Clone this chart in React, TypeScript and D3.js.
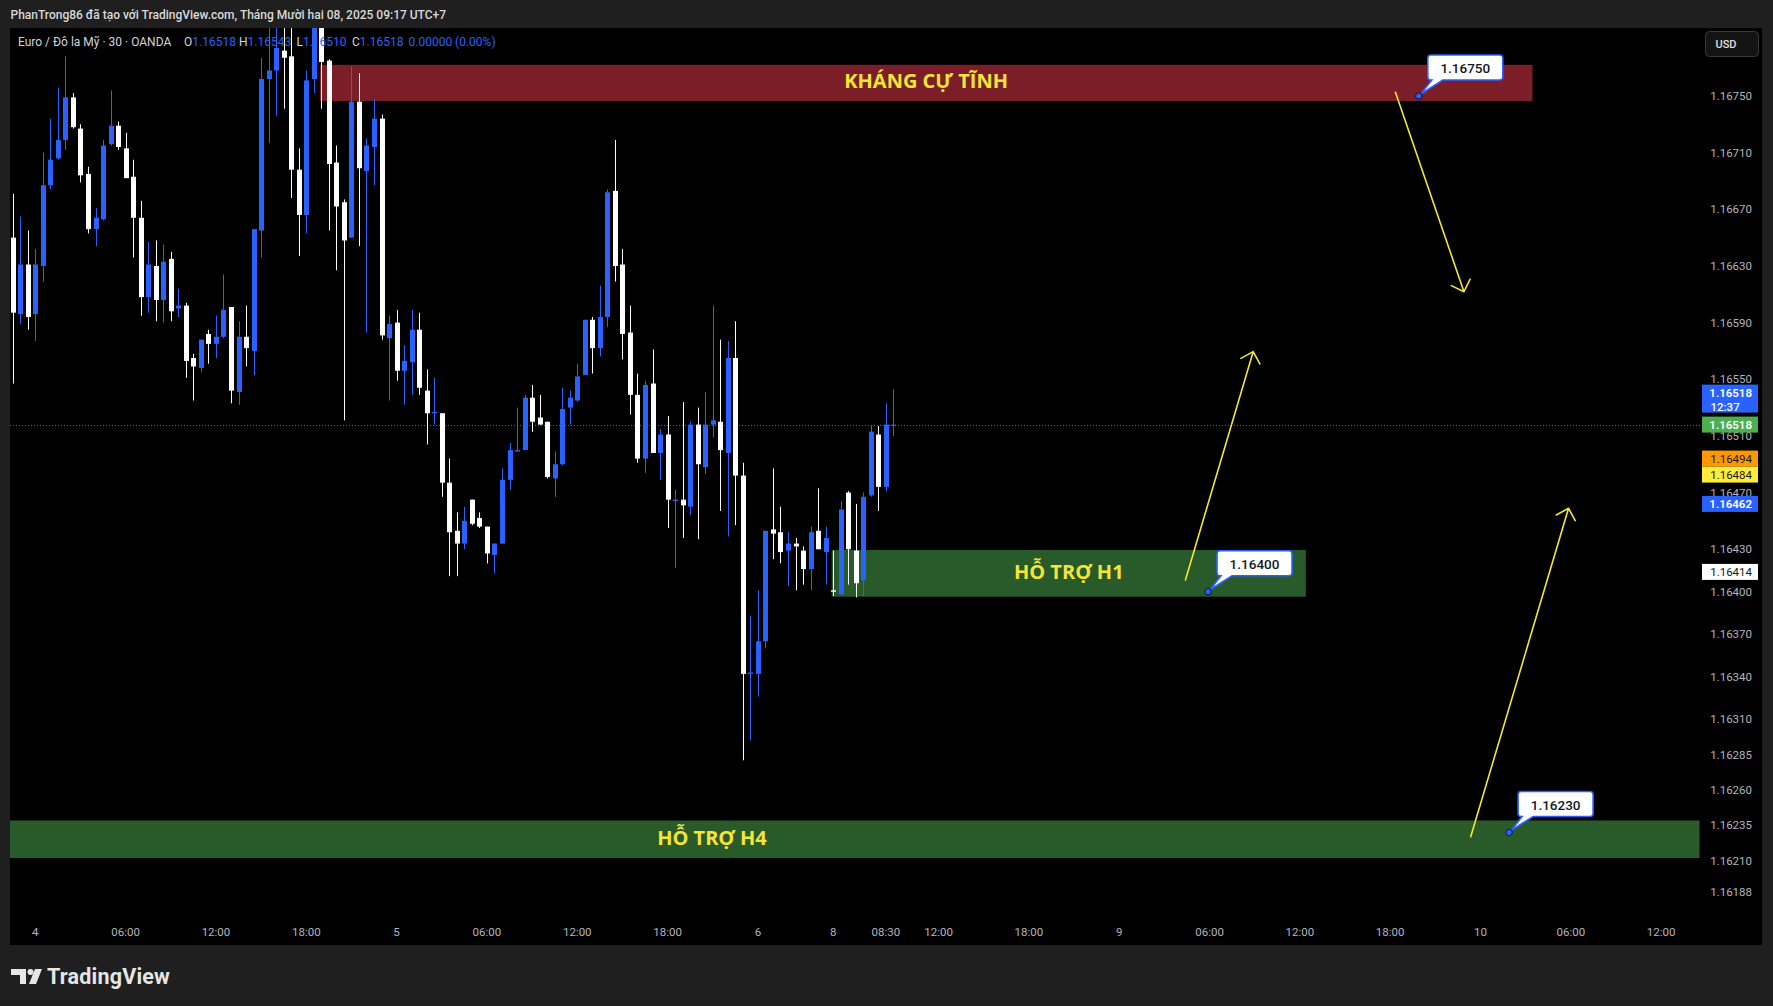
import React, { useEffect, useRef } from 'react';
import * as d3 from 'd3';

// EUR/USD 30 min, OANDA. Bar index 0 = Dec 4 00:00 (UTC+7), first drawn bar is index -3.
const firstBarIndex = -3;

const opens = [
  1.16650, 1.16596, 1.16631, 1.16596, 1.16630, 1.16687, 1.16706, 1.16719, 1.16749, 1.16727,
  1.16695, 1.16656, 1.16663, 1.16716, 1.16729, 1.16713, 1.16693, 1.16664, 1.16608, 1.16630,
  1.16606, 1.16635, 1.16600, 1.16602, 1.16565, 1.16558, 1.16582, 1.16575, 1.16580, 1.16601,
  1.16541, 1.16580, 1.16570, 1.16655, 1.16762, 1.16768, 1.16782, 1.16778, 1.16698, 1.16666,
  1.16762, 1.16800, 1.16775, 1.16703, 1.16675, 1.16650, 1.16746, 1.16697, 1.16714, 1.16734,
  1.16579, 1.16590, 1.16556, 1.16562, 1.16585, 1.16542, 1.16526, 1.16526, 1.16477, 1.16443,
  1.16434, 1.16465, 1.16452, 1.16446, 1.16426, 1.16434, 1.16479, 1.16499, 1.16500, 1.16537,
  1.16523, 1.16520, 1.16480, 1.16490, 1.16530, 1.16535, 1.16553, 1.16592, 1.16572, 1.16594,
  1.16683, 1.16631, 1.16583, 1.16539, 1.16494, 1.16547, 1.16498, 1.16511, 1.16464, 1.16465,
  1.16460, 1.16518, 1.16488, 1.16518, 1.16520, 1.16498, 1.16565, 1.16482, 1.16342, 1.16342,
  1.16365, 1.16444, 1.16442, 1.16429, 1.16434, 1.16429, 1.16416, 1.16443, 1.16428, 1.16401,
  1.16398, 1.16470, 1.16429, 1.16408, 1.16468, 1.16511, 1.16474, 1.16518,
];
const highs = [
  1.16681, 1.16665, 1.16655, 1.16642, 1.16710, 1.16734, 1.16756, 1.16778, 1.16752, 1.16730,
  1.16700, 1.16671, 1.16719, 1.16754, 1.16732, 1.16724, 1.16705, 1.16676, 1.16647, 1.16648,
  1.16645, 1.16640, 1.16614, 1.16604, 1.16568, 1.16578, 1.16585, 1.16595, 1.16624, 1.16601,
  1.16591, 1.16602, 1.16656, 1.16777, 1.16798, 1.16805, 1.16800, 1.16800, 1.16713, 1.16768,
  1.16810, 1.16805, 1.16776, 1.16715, 1.16677, 1.16771, 1.16766, 1.16720, 1.16748, 1.16737,
  1.16595, 1.16599, 1.16574, 1.16599, 1.16597, 1.16557, 1.16551, 1.16526, 1.16494, 1.16456,
  1.16460, 1.16465, 1.16456, 1.16446, 1.16434, 1.16487, 1.16505, 1.16530, 1.16539, 1.16546,
  1.16539, 1.16520, 1.16499, 1.16544, 1.16542, 1.16561, 1.16592, 1.16594, 1.16616, 1.16684,
  1.16719, 1.16642, 1.16602, 1.16554, 1.16549, 1.16571, 1.16515, 1.16524, 1.16472, 1.16534,
  1.16520, 1.16530, 1.16541, 1.16602, 1.16578, 1.16577, 1.16591, 1.16491, 1.16383, 1.16401,
  1.16443, 1.16487, 1.16460, 1.16442, 1.16438, 1.16432, 1.16446, 1.16473, 1.16446, 1.16429,
  1.16464, 1.16471, 1.16462, 1.16470, 1.16517, 1.16517, 1.16533, 1.16543,
];
const lows = [
  1.16547, 1.16589, 1.16585, 1.16577, 1.16619, 1.16684, 1.16705, 1.16712, 1.16727, 1.16689,
  1.16653, 1.16644, 1.16662, 1.16715, 1.16712, 1.16692, 1.16636, 1.16595, 1.16597, 1.16591,
  1.16590, 1.16591, 1.16594, 1.16551, 1.16535, 1.16555, 1.16561, 1.16565, 1.16579, 1.16533,
  1.16532, 1.16559, 1.16553, 1.16636, 1.16717, 1.16736, 1.16741, 1.16678, 1.16637, 1.16653,
  1.16752, 1.16741, 1.16655, 1.16627, 1.16521, 1.16650, 1.16644, 1.16583, 1.16687, 1.16578,
  1.16535, 1.16549, 1.16532, 1.16539, 1.16539, 1.16504, 1.16518, 1.16467, 1.16411, 1.16411,
  1.16430, 1.16447, 1.16445, 1.16420, 1.16413, 1.16434, 1.16472, 1.16499, 1.16500, 1.16513,
  1.16518, 1.16480, 1.16467, 1.16489, 1.16518, 1.16534, 1.16553, 1.16554, 1.16566, 1.16587,
  1.16619, 1.16564, 1.16525, 1.16491, 1.16484, 1.16498, 1.16479, 1.16445, 1.16417, 1.16438,
  1.16454, 1.16437, 1.16483, 1.16509, 1.16457, 1.16439, 1.16447, 1.16281, 1.16295, 1.16326,
  1.16360, 1.16423, 1.16420, 1.16404, 1.16401, 1.16405, 1.16401, 1.16430, 1.16405, 1.16397,
  1.16398, 1.16405, 1.16396, 1.16397, 1.16467, 1.16457, 1.16471, 1.16510,
];
const closes = [
  1.16597, 1.16631, 1.16594, 1.16631, 1.16687, 1.16705, 1.16719, 1.16749, 1.16728, 1.16694,
  1.16656, 1.16664, 1.16715, 1.16729, 1.16714, 1.16692, 1.16664, 1.16608, 1.16631, 1.16606,
  1.16633, 1.16598, 1.16602, 1.16563, 1.16559, 1.16578, 1.16575, 1.16580, 1.16599, 1.16542,
  1.16580, 1.16572, 1.16656, 1.16762, 1.16768, 1.16784, 1.16777, 1.16698, 1.16666, 1.16761,
  1.16800, 1.16774, 1.16702, 1.16672, 1.16648, 1.16746, 1.16699, 1.16715, 1.16734, 1.16581,
  1.16589, 1.16556, 1.16563, 1.16585, 1.16544, 1.16526, 1.16527, 1.16477, 1.16442, 1.16434,
  1.16450, 1.16448, 1.16446, 1.16427, 1.16434, 1.16479, 1.16500, 1.16500, 1.16537, 1.16520,
  1.16518, 1.16481, 1.16490, 1.16529, 1.16537, 1.16552, 1.16592, 1.16572, 1.16594, 1.16682,
  1.16630, 1.16582, 1.16539, 1.16494, 1.16546, 1.16498, 1.16511, 1.16465, 1.16465, 1.16461,
  1.16518, 1.16490, 1.16518, 1.16521, 1.16500, 1.16565, 1.16482, 1.16342, 1.16343, 1.16365,
  1.16443, 1.16441, 1.16428, 1.16434, 1.16432, 1.16416, 1.16442, 1.16430, 1.16438, 1.16400,
  1.16458, 1.16430, 1.16406, 1.16467, 1.16513, 1.16474, 1.16518, 1.16518,
];

// time axis (bar index -> label)
const timeTickIndex = [0, 12, 24, 36, 48, 60, 72, 84, 96, 106, 113, 120, 132, 144, 156, 168, 180, 192, 204, 216];
const timeTickLabels = ['4', '06:00', '12:00', '18:00', '5', '06:00', '12:00', '18:00', '6', '8', '08:30', '12:00', '18:00', '9', '06:00', '12:00', '18:00', '10', '06:00', '12:00'];

// price axis
const priceTicks = [1.16750, 1.16710, 1.16670, 1.16630, 1.16590, 1.16550, 1.16510, 1.16470, 1.16430, 1.16400,
  1.16370, 1.16340, 1.16310, 1.16285, 1.16260, 1.16235, 1.16210, 1.16188];
const lastPrice = 1.16518;
const countdown = '12:37';
const tagValues = [1.16494, 1.16484, 1.16462, 1.16414];

// drawn zones
const zoneNames = ['KHÁNG CỰ TĨNH', 'HỖ TRỢ H1', 'HỖ TRỢ H4'];
const zoneFrom = [37.8, 105.8, -41.3];
const zoneTo = [198.9, 168.8, 221.1];
const zoneLow = [1.167465, 1.163965, 1.16212];
const zoneHigh = [1.16772, 1.164295, 1.162385];

// price callouts
const calloutValues = [1.16750, 1.16400, 1.16230];
const calloutIndex = [183.8, 155.8, 195.8];

// arrows (bar index, price)
const arrowFromIndex = [180.7, 152.8, 190.7];
const arrowFromPrice = [1.167526, 1.164083, 1.16227];
const arrowToIndex = [189.8, 161.8, 203.7];
const arrowToPrice = [1.166118, 1.165695, 1.164589];

const W = 1773;
const H = 1006;
const FONT = 'Roboto, "Noto Sans", sans-serif';

const App: React.FC = () => {
  const svgRef = useRef<SVGSVGElement>(null);

  useEffect(() => {
    if (!svgRef.current) return;
    document.body.style.margin = '0';

    const svg = d3.select(svgRef.current);
    svg.selectAll('*').remove();

    const plot = { left: 10, right: 1700, top: 28, bottom: 945, edge: 1762 };
    const blue = '#2962ff';
    const yellow = '#f5e634';

    const x = d3.scaleLinear().domain([0, 192]).range([35.3, 1480.5]);
    const y = d3.scaleLinear().domain([1.16188, 1.16750]).range([892, 96]);

    // page frame
    svg.append('rect').attr('width', W).attr('height', H).attr('fill', '#1f1f1f');
    svg.append('rect')
      .attr('x', plot.left).attr('y', plot.top)
      .attr('width', plot.edge - plot.left).attr('height', plot.bottom - plot.top)
      .attr('fill', '#000');

    svg.append('defs').append('clipPath').attr('id', 'plot-clip')
      .append('rect')
      .attr('x', plot.left).attr('y', plot.top)
      .attr('width', plot.right - plot.left).attr('height', plot.bottom - plot.top);

    const g = svg.append('g').attr('clip-path', 'url(#plot-clip)');

    // zones
    zoneNames.forEach((name, i) => {
      const x0 = x(zoneFrom[i]);
      const x1 = x(zoneTo[i]);
      const yTop = y(zoneHigh[i]);
      const yBot = y(zoneLow[i]);
      g.append('rect')
        .attr('x', x0).attr('y', yTop)
        .attr('width', x1 - x0).attr('height', yBot - yTop)
        .attr('fill', i === 0 ? '#7b1e27' : '#295a2a');
    });

    // last price dotted line
    g.append('line')
      .attr('x1', plot.left).attr('x2', plot.right)
      .attr('y1', Math.round(y(lastPrice)) + 0.5).attr('y2', Math.round(y(lastPrice)) + 0.5)
      .attr('stroke', blue).attr('stroke-width', 1).attr('stroke-dasharray', '1,2');

    // candles
    const candles = opens.map((o, i) => ({
      idx: firstBarIndex + i, o, h: highs[i], l: lows[i], c: closes[i],
    }));
    const cg = g.selectAll('.candle').data(candles).enter().append('g').attr('class', 'candle');
    const cx = (d: any) => Math.round(x(d.idx)) + 0.5;
    const col = (d: any) => (d.c >= d.o ? blue : '#ffffff');
    cg.append('line')
      .attr('x1', cx).attr('x2', cx)
      .attr('y1', d => y(d.h)).attr('y2', d => y(d.l))
      .attr('stroke', col).attr('stroke-width', 1);
    cg.append('rect')
      .attr('x', d => cx(d) - 2.5)
      .attr('width', 5)
      .attr('y', d => y(Math.max(d.o, d.c)))
      .attr('height', d => Math.max(1, Math.abs(y(d.o) - y(d.c))))
      .attr('fill', col);

    // zone labels
    zoneNames.forEach((name, i) => {
      g.append('text')
        .attr('x', (x(zoneFrom[i]) + x(zoneTo[i])) / 2)
        .attr('y', (y(zoneHigh[i]) + y(zoneLow[i])) / 2 - 2)
        .attr('text-anchor', 'middle').attr('dominant-baseline', 'central')
        .attr('font-family', '"Open Sans", Roboto, sans-serif')
        .attr('font-weight', 700).attr('font-size', 20)
        .attr('fill', yellow)
        .text(name);
    });

    // arrows
    arrowFromIndex.forEach((_, i) => {
      const x0 = x(arrowFromIndex[i]);
      const y0 = y(arrowFromPrice[i]);
      const x1 = x(arrowToIndex[i]);
      const y1 = y(arrowToPrice[i]);
      const ang = Math.atan2(y0 - y1, x0 - x1);
      const len = 14;
      const a1 = ang + Math.PI / 4;
      const a2 = ang - Math.PI / 4;
      const path = d3.path();
      path.moveTo(x0, y0);
      path.lineTo(x1, y1);
      path.moveTo(x1 + len * Math.cos(a1), y1 + len * Math.sin(a1));
      path.lineTo(x1, y1);
      path.lineTo(x1 + len * Math.cos(a2), y1 + len * Math.sin(a2));
      g.append('path')
        .attr('d', path.toString())
        .attr('fill', 'none')
        .attr('stroke', yellow).attr('stroke-width', 1.6)
        .attr('stroke-linecap', 'round').attr('stroke-linejoin', 'round');
    });

    // price callouts
    calloutValues.forEach((v, i) => {
      const ax = x(calloutIndex[i]);
      const ay = y(v);
      const bx = ax + 9;
      const by = ay - 41;
      const bw = 75;
      const bh = 25;
      const r = 3;
      const p = d3.path();
      p.moveTo(bx + r, by);
      p.lineTo(bx + bw - r, by);
      p.quadraticCurveTo(bx + bw, by, bx + bw, by + r);
      p.lineTo(bx + bw, by + bh - r);
      p.quadraticCurveTo(bx + bw, by + bh, bx + bw - r, by + bh);
      p.lineTo(ax + 24, by + bh);
      p.lineTo(ax + 2, ay - 2);
      p.lineTo(ax + 13, by + bh);
      p.lineTo(bx + r, by + bh);
      p.quadraticCurveTo(bx, by + bh, bx, by + bh - r);
      p.lineTo(bx, by + r);
      p.quadraticCurveTo(bx, by, bx + r, by);
      p.closePath();
      g.append('path').attr('d', p.toString())
        .attr('fill', '#ffffff').attr('stroke', blue).attr('stroke-width', 1.6);
      g.append('text')
        .attr('x', bx + bw / 2).attr('y', by + bh / 2 + 0.5)
        .attr('text-anchor', 'middle').attr('dominant-baseline', 'central')
        .attr('font-family', FONT).attr('font-size', 13.5).attr('font-weight', 500)
        .attr('fill', '#131722')
        .text(v.toFixed(5));
      g.append('circle')
        .attr('cx', ax).attr('cy', ay).attr('r', 3.2)
        .attr('fill', blue).attr('stroke', '#0a1436').attr('stroke-width', 1);
    });

    // legend on top of the plot
    const legend = svg.append('text')
      .attr('y', 42).attr('dominant-baseline', 'central')
      .attr('font-family', FONT).attr('font-size', 12);
    legend.append('tspan').attr('x', 18).attr('fill', '#d1d4dc').text('Euro / Đô la Mỹ · 30 · OANDA');
    const ohlc = [['O', opens[opens.length - 1]], ['H', highs[highs.length - 1]], ['L', lows[lows.length - 1]], ['C', closes[closes.length - 1]]] as [string, number][];
    const ohlcX = [184, 239, 296.5, 352];
    ohlc.forEach(([k, v], i) => {
      legend.append('tspan').attr('x', ohlcX[i]).attr('fill', '#d1d4dc').text(k);
      legend.append('tspan').attr('fill', blue).text(v.toFixed(5));
    });
    const change = closes[closes.length - 1] - opens[opens.length - 1];
    legend.append('tspan').attr('x', 408.5).attr('fill', blue)
      .text(`${Math.abs(change).toFixed(5)} (${(Math.abs(change) / opens[opens.length - 1] * 100).toFixed(2)}%)`);

    // title bar
    svg.append('text')
      .attr('x', 10.5).attr('y', 15).attr('dominant-baseline', 'central')
      .attr('font-family', FONT).attr('font-size', 12).attr('font-weight', 500)
      .attr('fill', '#d9d9d9')
      .text('PhanTrong86 đã tạo với TradingView.com, Tháng Mười hai 08, 2025 09:17 UTC+7');

    // time axis
    svg.append('g').selectAll('text')
      .data(timeTickIndex).enter().append('text')
      .attr('x', d => x(d)).attr('y', 932)
      .attr('text-anchor', 'middle').attr('dominant-baseline', 'central')
      .attr('font-family', FONT).attr('font-size', 11.5)
      .attr('fill', '#b2b5be')
      .text((_, i) => timeTickLabels[i]);

    // price axis
    const axisX = 1752;
    svg.append('g').selectAll('text')
      .data(priceTicks).enter().append('text')
      .attr('x', axisX).attr('y', d => y(d))
      .attr('text-anchor', 'end').attr('dominant-baseline', 'central')
      .attr('font-family', FONT).attr('font-size', 11.5)
      .attr('fill', '#b2b5be')
      .text(d => d.toFixed(5));

    const tag = (value: number, yc: number, h: number, bg: string, fg: string, bold = false) => {
      svg.append('rect')
        .attr('x', 1702).attr('y', yc - h / 2)
        .attr('width', 56).attr('height', h)
        .attr('fill', bg);
      svg.append('text')
        .attr('x', axisX).attr('y', yc + 0.5)
        .attr('text-anchor', 'end').attr('dominant-baseline', 'central')
        .attr('font-family', FONT).attr('font-size', 11.5)
        .attr('font-weight', bold ? 600 : 400)
        .attr('fill', fg)
        .text(value.toFixed(5));
    };
    const tagColors = ['#ff9800', '#ffeb3b', blue, '#ffffff'];
    const tagText = ['#131722', '#131722', '#ffffff', '#131722'];
    // stack tags so they do not overlap
    let prevBottom = -Infinity;
    tagValues.forEach((v, i) => {
      const yc = Math.max(y(v), prevBottom + 8);
      prevBottom = yc + 8;
      tag(v, yc, 16, tagColors[i], tagText[i], i === 2);
    });

    // last price + countdown
    const yl = y(lastPrice);
    svg.append('rect').attr('x', 1702).attr('y', yl - 40).attr('width', 56).attr('height', 28).attr('fill', blue);
    svg.append('text')
      .attr('x', axisX).attr('y', yl - 32)
      .attr('text-anchor', 'end').attr('dominant-baseline', 'central')
      .attr('font-family', FONT).attr('font-size', 11.5).attr('font-weight', 600)
      .attr('fill', '#ffffff').text(lastPrice.toFixed(5));
    svg.append('text')
      .attr('x', 1710.5).attr('y', yl - 18)
      .attr('dominant-baseline', 'central')
      .attr('font-family', FONT).attr('font-size', 11.5).attr('font-weight', 500)
      .attr('fill', '#ffffff').text(countdown);
    tag(lastPrice, yl, 16, '#4caf50', '#ffffff', true);

    // currency button
    svg.append('rect')
      .attr('x', 1705.5).attr('y', 31.5).attr('width', 53).attr('height', 25).attr('rx', 4)
      .attr('fill', '#141414').attr('stroke', '#3a3a3a');
    svg.append('text')
      .attr('x', 1726).attr('y', 44.5)
      .attr('text-anchor', 'middle').attr('dominant-baseline', 'central')
      .attr('font-family', FONT).attr('font-size', 11).attr('font-weight', 500)
      .attr('fill', '#e0e0e0').text('USD');

    // TradingView logo
    const logo = svg.append('g').attr('fill', '#e6e6e6');
    logo.append('path').attr('d', 'M11 969 H26 V984 H20 V975 H11 Z');
    logo.append('circle').attr('cx', 30.5).attr('cy', 972).attr('r', 3);
    logo.append('path').attr('d', 'M35 969 H42 L36 984 H29 Z');
    svg.append('text')
      .attr('x', 47).attr('y', 976.5).attr('dominant-baseline', 'central')
      .attr('font-family', FONT).attr('font-size', 21.5).attr('font-weight', 700)
      .attr('fill', '#e6e6e6').attr('letter-spacing', 0.2)
      .text('TradingView');
  }, []);

  return (
    <svg
      ref={svgRef}
      width={W}
      height={H}
      style={{ position: 'absolute', left: 0, top: 0, display: 'block' }}
    />
  );
};

export default App;
